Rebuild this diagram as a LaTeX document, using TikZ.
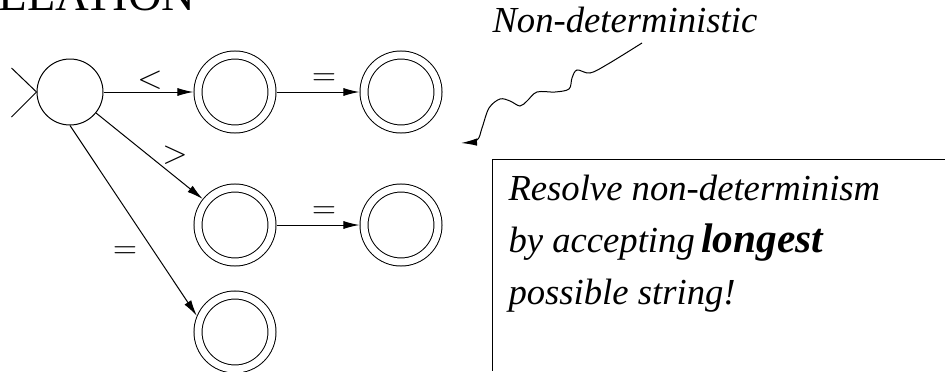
\documentclass[tikz,border=0pt]{standalone}
\usepackage{fontspec}
\setmainfont{Liberation Serif}
\usetikzlibrary{arrows.meta}

\begin{document}
\begin{tikzpicture}[x=0.75pt,y=0.75pt,yscale=-1,xscale=1,line width=0.75pt,
    state/.style={draw,circle,minimum size=49.5pt,inner sep=0pt},
    accept/.style={draw,circle,minimum size=55.5pt,inner sep=0pt,double,double distance=5.25pt,outer sep=3.4pt},
    trans/.style={-{Latex[length=12pt,width=6pt]}},
    sym/.style={inner sep=0pt,font=\fontsize{34}{34}\selectfont},
    rel/.style={inner sep=0pt,font=\fontsize{39}{39}\selectfont},
    note/.style={anchor=base west,inner sep=0pt,font=\fontsize{27.5}{27.5}\selectfont\itshape}]
    \useasboundingbox (0,0) rectangle (945,371);
    %Shape: Circle
    \node (q0) [state] at (70,92) {};
    %Shape: Circle
    \node (q1) [accept] at (235,92) {};
    %Shape: Circle
    \node (q2) [accept] at (401,92) {};
    %Shape: Circle
    \node (q3) [accept] at (235,225) {};
    %Shape: Circle
    \node (q4) [accept] at (401,225) {};
    %Shape: Circle
    \node (q5) [accept] at (235,332) {};
    %Straight Lines
    \draw ([shift={(-25,-24)}]q0.west) -- (q0.west) -- ([shift={(-25,25)}]q0.west);
    \draw [trans] (q0) -- (q1);
    \draw [trans] (q1) -- (q2);
    \draw [trans] (q0) -- (q3);
    \draw [trans] (q0.south) -- (q5.157);
    \draw [trans] (q3) -- (q4);
    %Curve Lines
    \coordinate (wavetop) at (642,43);
    \coordinate (wavetip) at (461,143);
    \draw [-{Latex[length=12pt,width=5.5pt]}] plot [smooth,tension=0.55] coordinates {(wavetop) (608,64) (590,73) (577,70) (572,78) (569,89) (555,92) (537,92) (527,101) (520,106) (510,101) (500,99) (489,108) (482,128) (477,140) (wavetip)};
    %Shape: Rectangle
    \draw (945,159) -- (492,159) -- (492,371);

    % Text Node
    \node (lt) [rel] at (150,80) {$<$};
    % Text Node
    \node (eqa) [sym] at (324,80) {$=$};
    % Text Node
    \node (gt) [rel] at (175,155) {$>$};
    % Text Node
    \node (eqb) [sym] at (324,213) {$=$};
    % Text Node
    \node (eqc) [sym] at (125,253) {$=$};
    % Text Node
    \node (title) [anchor=base west,inner sep=0pt,font=\fontsize{35}{35}\selectfont] at (-2,10) {ELATION};
    % Text Node
    \node (nondet) [note] at (492,32) {Non-deterministic};
    % Text Node
    \node (line1) [note] at (508,200) {Resolve non-determinism};
    % Text Node
    \node (line2) [note] at (508,252) {by accepting\hspace{5pt}{\fontsize{31}{31}\selectfont\bfseries longest}};
    % Text Node
    \node (line3) [note] at (508,304) {possible string!};

\end{tikzpicture}
\end{document}
